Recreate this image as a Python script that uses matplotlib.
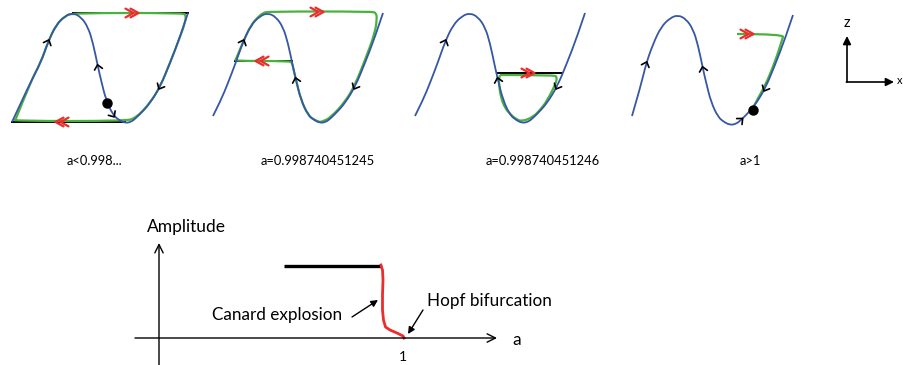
import numpy as np
import matplotlib.pyplot as plt
from matplotlib.path import Path
from matplotlib.patches import PathPatch

plt.rcParams['font.family'] = ['Lato', 'DejaVu Sans']

# S-shaped slow manifold, pixel offsets from its peak
CURVE_DX = [-55, -47, -40, -32, -25, -17, -8, 0, 8, 15, 20, 25, 28, 33, 40,
            46, 52, 58, 63, 70, 77, 87, 97, 107, 115]
CURVE_DY = [103, 87, 70, 49, 29, 12, 3, 0, 4, 14, 30, 54, 67, 87, 102,
            107, 110, 109, 105, 98, 90, 74, 50, 24, 0]

# peak of the curve in each of the four panels, and its lower-left tail
PEAK_X = [73, 268, 470, 678]
PEAK_Y = [13, 13, 13, 15]
TAIL_DX = [[-61, -43], [-55, -47, -40], [-55, -47, -40], [-46, -37]]
TAIL_DY = [[109, 70], [103, 87, 70], [103, 87, 70], [101, 70]]
CURVE_FROM = 3  # index of CURVE_DX where the shared part starts

PANEL_LABELS = ["a<0.998...", "a=0.998740451245", "a=0.998740451246", "a>1"]
LABEL_X = [94, 318, 543, 750]

# green trajectories (relative to the peak)
GREEN_DX = [
    [-58, -43, -32, -25, -17, -8, 0, 110, 113, 112, 107, 97, 87, 77, 63, 52,
     -57, -59, -58],
    [52, 46, 40, 33, 28, 25, 24, 22, -33, -32, -25, -17, -10, -5, 0, 104,
     108, 109, 107, 97, 87, 77, 63, 56, 52],
    [30, 84, 87, 86, 77, 70, 63, 52, 46, 40, 35, 31, 29, 29, 30],
    [59, 106, 104, 97, 87, 80, 75],
]
GREEN_DY = [
    [108, 70, 49, 29, 12, 3, 0, 0, 2, 10, 24, 50, 74, 90, 105, 108,
     108, 106, 108],
    [109, 107, 102, 87, 67, 54, 50, 48, 48, 46, 29, 12, 4, 0, -1.5, -1.5,
     0, 5, 20, 47, 72, 89, 104, 108, 109],
    [62, 62, 64, 70, 88, 97, 104, 108.5, 106, 101, 95, 85, 72, 65, 62],
    [19, 19, 25, 47, 71, 83, 93],
]

# black fast fibres: panel, dx start, dx end, dy
FIBRE_PANEL = [0, 0, 1, 2]
FIBRE_X0 = [0, -61, -33, 27]
FIBRE_X1 = [115, 52, 24, 92]
FIBRE_DY = [0, 109, 48, 60]

# red double arrows: panel, dx, dy, direction (+1 right, -1 left)
RED_PANEL = [0, 0, 1, 1, 2, 3]
RED_DX = [59, -11, 49, -6, 58, 69]
RED_DY = [0, 109, -1, 48, 60, 19]
RED_DIR = [1, -1, 1, -1, 1, 1]

# black arrows on the curve: panel, index in CURVE_DX, direction along index
ARR_PANEL = [0, 0, 0, 0, 1, 1, 1, 2, 2, 2, 3, 3, 3, 3]
ARR_INDEX = [4, 11, 14, 21, 4, 12, 21, 4, 12, 21, 3, 11, 21, 18]
ARR_DIR = [1, -1, 1, -1, 1, -1, -1, 1, -1, -1, 1, -1, -1, 1]

# equilibrium points
DOT_PANEL = [0, 3]
DOT_DX = [34, 75]
DOT_DY = [90, 95]

# bifurcation diagram (pixels)
BRANCH_X = [284, 381]
BRANCH_Y = [266, 266]
RED_X = [381, 382.5, 383, 382.5, 382.5, 383.5, 385.5, 390, 397, 403, 404]
RED_Y = [265, 270, 280, 295, 310, 320, 327, 330, 333, 336, 338]

BLUE = '#3656a6'
GREEN = '#48b23c'
RED = '#ec2d2d'


def smooth_path(xs, ys):
    pts = np.column_stack([xs, ys]).astype(float)
    verts = [pts[0]]
    codes = [Path.MOVETO]
    n = len(pts)
    for i in range(1, n - 1):
        end = pts[-1] if i == n - 2 else (pts[i] + pts[i + 1]) / 2
        verts += [pts[i], end]
        codes += [Path.CURVE3, Path.CURVE3]
    if n == 2:
        verts.append(pts[1])
        codes.append(Path.LINETO)
    return Path(verts, codes)


def chevron(ax, cx, cy, ux, uy, length, half, color, lw):
    norm = np.hypot(ux, uy)
    ux, uy = ux / norm, uy / norm
    tx, ty = cx + ux * length / 2, cy + uy * length / 2
    bx, by = cx - ux * length / 2, cy - uy * length / 2
    ax.plot([bx - uy * half, tx, bx + uy * half],
            [by + ux * half, ty, by - ux * half],
            color=color, lw=lw, solid_capstyle='round', zorder=6)


def panel_curve(p):
    xs = [PEAK_X[p] + d for d in TAIL_DX[p] + CURVE_DX[CURVE_FROM:]]
    ys = [PEAK_Y[p] + d for d in TAIL_DY[p] + CURVE_DY[CURVE_FROM:]]
    return xs, ys


def main():
    fig = plt.figure(figsize=(9.04, 3.65), dpi=100)
    ax = fig.add_axes([0, 0, 1, 1])
    ax.set_xlim(0, 904)
    ax.set_ylim(365, 0)
    ax.axis('off')

    # fast fibres
    for p, x0, x1, dy in zip(FIBRE_PANEL, FIBRE_X0, FIBRE_X1, FIBRE_DY):
        ax.plot([PEAK_X[p] + x0, PEAK_X[p] + x1], [PEAK_Y[p] + dy] * 2,
                color='black', lw=1.4, zorder=2)

    # trajectories
    for p in range(4):
        gx = [PEAK_X[p] + d for d in GREEN_DX[p]]
        gy = [PEAK_Y[p] + d for d in GREEN_DY[p]]
        ax.add_patch(PathPatch(smooth_path(gx, gy), fill=False,
                               edgecolor=GREEN, lw=1.6, zorder=3))

    # slow manifolds
    for p in range(4):
        xs, ys = panel_curve(p)
        ax.add_patch(PathPatch(smooth_path(xs, ys), fill=False,
                               edgecolor=BLUE, lw=1.3, zorder=4))

    # flow arrows on the curve
    for p, i, d in zip(ARR_PANEL, ARR_INDEX, ARR_DIR):
        cx, cy = PEAK_X[p] + CURVE_DX[i], PEAK_Y[p] + CURVE_DY[i]
        ux = (CURVE_DX[i + 1] - CURVE_DX[i - 1]) * d
        uy = (CURVE_DY[i + 1] - CURVE_DY[i - 1]) * d
        chevron(ax, cx, cy, ux, uy, 4.5, 4, 'black', 1.2)

    # fast jumps
    for p, dx, dy, d in zip(RED_PANEL, RED_DX, RED_DY, RED_DIR):
        cx, cy = PEAK_X[p] + dx, PEAK_Y[p] + dy
        for off in (-2.5, 2.5):
            chevron(ax, cx + off * d, cy, d, 0, 8, 4.4, RED, 1.6)

    for p, dx, dy in zip(DOT_PANEL, DOT_DX, DOT_DY):
        ax.plot(PEAK_X[p] + dx, PEAK_Y[p] + dy, 'o', color='black', ms=6.5,
                zorder=7)

    for x, lab in zip(LABEL_X, PANEL_LABELS):
        ax.text(x, 161, lab, fontsize=9.3, ha='center', va='center')

    # coordinate icon
    ax.annotate('', xy=(847, 36), xytext=(847, 82),
                arrowprops=dict(arrowstyle='-|>', lw=1.2, color='black',
                                mutation_scale=12, shrinkA=0, shrinkB=0))
    ax.annotate('', xy=(894, 82), xytext=(846.4, 82),
                arrowprops=dict(arrowstyle='-|>', lw=1.2, color='black',
                                mutation_scale=12, shrinkA=0, shrinkB=0))
    ax.text(847, 23, 'z', fontsize=10.5, ha='center', va='center')
    ax.text(902.5, 81, 'x', fontsize=8, ha='right', va='center')

    # bifurcation diagram
    ax.annotate('', xy=(497, 338), xytext=(135, 338),
                arrowprops=dict(arrowstyle='->', lw=1.0, color='black',
                                mutation_scale=15, shrinkA=0, shrinkB=0))
    ax.annotate('', xy=(159, 243), xytext=(159, 365),
                arrowprops=dict(arrowstyle='->', lw=1.0, color='black',
                                mutation_scale=15, shrinkA=0, shrinkB=0))
    ax.plot(BRANCH_X, BRANCH_Y, color='black', lw=2.4, solid_capstyle='butt')
    ax.plot(RED_X, RED_Y, color=RED, lw=2.0)

    ax.text(147, 227, 'Amplitude', fontsize=12.5, ha='left', va='center')
    ax.text(517, 340, 'a', fontsize=12.5, ha='center', va='center')
    ax.text(403, 357, '1', fontsize=10, ha='center', va='center')
    ax.text(212, 315, 'Canard explosion', fontsize=12.3, ha='left',
            va='center')
    ax.text(427, 301, 'Hopf bifurcation', fontsize=12.3, ha='left',
            va='center')
    ax.annotate('', xy=(378, 300), xytext=(352, 317),
                arrowprops=dict(arrowstyle='-|>', lw=1.0, color='black',
                                mutation_scale=10, shrinkA=0, shrinkB=0))
    ax.annotate('', xy=(408, 334), xytext=(423, 310),
                arrowprops=dict(arrowstyle='-|>', lw=1.0, color='black',
                                mutation_scale=10, shrinkA=0, shrinkB=0))

    fig.savefig('out.png', dpi=100)


if __name__ == "__main__":
    main()
